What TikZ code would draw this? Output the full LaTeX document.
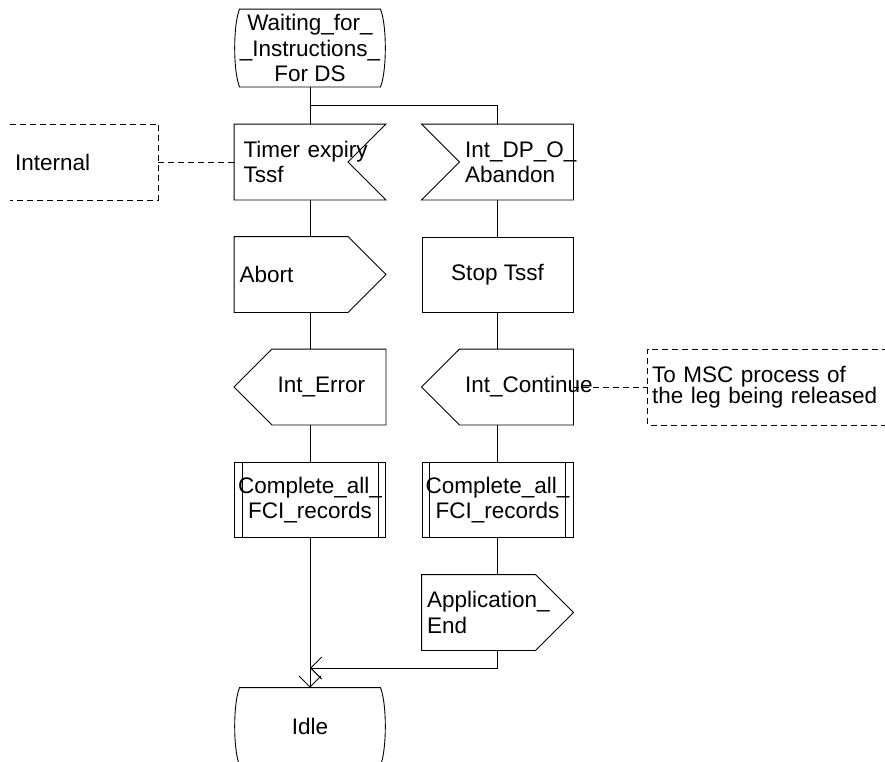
\documentclass[tikz,border=0pt]{standalone}
\usepackage{fontspec}
\setmainfont{Liberation Sans}
\usepackage{tikz}
\usetikzlibrary{arrows.meta,positioning,calc}
\hyphenpenalty=10000

\begin{document}
\begin{tikzpicture}[x=1pt, y=-1pt, line width=0.9pt,
  every node/.style={font=\fontsize{22.5}{25.5}\selectfont},
  sdlbox/.style={minimum width=151pt, minimum height=75pt, inner ysep=0pt},
  comment/.style={dash pattern=on 6pt off 4pt},
  flow/.style={-{Straight Barb[length=11pt,width=22pt]}}]
  \useasboundingbox (0,0) rectangle (885,761);

  % left branch
  \node[sdlbox, minimum width=150pt, minimum height=77pt, inner xsep=0pt, align=center]
    (wait) at (310,48) {Waiting\_for\_\\\_Instructions\_\\For DS};
  \node[sdlbox, align=left, inner xsep=9pt, text width=133pt]
    (timer) at (310,162) {Timer expiry\\Tssf};
  \node[sdlbox, align=left, inner xsep=5pt, text width=141pt]
    (abort) at (310,274.5) {Abort};
  \node[sdlbox, align=left, inner xsep=43pt, text width=65pt]
    (err) at (310,387) {Int\_Error};
  \node[sdlbox, draw, inner xsep=0pt, align=center]
    (fci1) at (310,500) {Complete\_all\_\\FCI\_records};
  \node[sdlbox, minimum width=150pt, minimum height=77pt, inner xsep=0pt]
    (idle) at (310,726.5) {Idle};

  % right branch
  \node[sdlbox, align=left, inner xsep=43pt, text width=65pt]
    (abandon) at (497.5,162) {Int\_DP\_O\_\\Abandon};
  \node[sdlbox, draw, inner xsep=0pt]
    (stop) at (497.5,274.5) {Stop Tssf};
  \node[sdlbox, align=left, inner xsep=43pt, text width=65pt]
    (cont) at (497.5,387) {Int\_Continue};
  \node[sdlbox, draw, inner xsep=0pt, align=center]
    (fci2) at (497.5,500) {Complete\_all\_\\FCI\_records};
  \node[sdlbox, align=left, inner xsep=5pt, text width=141pt]
    (appEnd) at (497.5,612.5) {Application\_\\End};

  % comments
  \node[sdlbox, minimum width=148pt, align=left, inner xsep=5pt, text width=138pt]
    (internal) at (84,162) {Internal};
  \node[sdlbox, minimum width=240pt, align=left, inner xsep=4pt, text width=232pt,
    font=\fontsize{22.5}{21.5}\selectfont]
    (msc) at (768,387) {To MSC process of\\the leg being released};

  % symbol outlines
  \foreach \n in {wait,idle}
    \draw ([xshift=5pt]\n.north west) -- ([xshift=-5pt]\n.north east)
      .. controls ([xshift=1.5pt,yshift=-16pt]\n.north east)
      and ([xshift=1.5pt,yshift=16pt]\n.south east) .. ([xshift=-5pt]\n.south east)
      -- ([xshift=5pt]\n.south west)
      .. controls ([xshift=-1.5pt,yshift=16pt]\n.south west)
      and ([xshift=-1.5pt,yshift=-16pt]\n.north west) .. cycle;
  \draw (timer.north west) -- (timer.north east) -- ([xshift=-38pt]timer.east)
    -- (timer.south east) -- (timer.south west) -- cycle;
  \draw (abandon.north west) -- (abandon.north east) -- (abandon.south east)
    -- (abandon.south west) -- ([xshift=38pt]abandon.west) -- cycle;
  \foreach \n in {abort,appEnd}
    \draw (\n.north west) -- ([xshift=-38pt]\n.north east) -- (\n.east)
      -- ([xshift=-38pt]\n.south east) -- (\n.south west) -- cycle;
  \foreach \n in {err,cont}
    \draw ([xshift=38pt]\n.north west) -- (\n.north east) -- (\n.south east)
      -- ([xshift=38pt]\n.south west) -- (\n.west) -- cycle;
  \foreach \n in {fci1,fci2}
    \draw ([xshift=8pt]\n.north west) -- ([xshift=8pt]\n.south west)
      ([xshift=-8pt]\n.north east) -- ([xshift=-8pt]\n.south east);

  % flow lines
  \coordinate (split) at (310,105);
  \coordinate (merge) at (310,668);
  \draw (wait) -- (timer);
  \draw (split) -| (abandon);
  \draw (timer) -- (abort);
  \draw (abort) -- (err);
  \draw (err) -- (fci1);
  \draw[flow] (fci1) -- (idle);
  \draw (abandon) -- (stop);
  \draw (stop) -- (cont);
  \draw (cont) -- (fci2);
  \draw (fci2) -- (appEnd);
  \draw[flow] (appEnd.south) |- (merge);

  % comment brackets
  \draw[comment] (internal.north west) -- (internal.north east)
    -- (internal.south east) -- (internal.south west);
  \draw[comment] (internal) -- (timer);
  \draw[comment] (msc.north east) -- (msc.north west)
    -- (msc.south west) -- (msc.south east);
  \draw[comment] (cont) -- (msc);
\end{tikzpicture}
\end{document}
